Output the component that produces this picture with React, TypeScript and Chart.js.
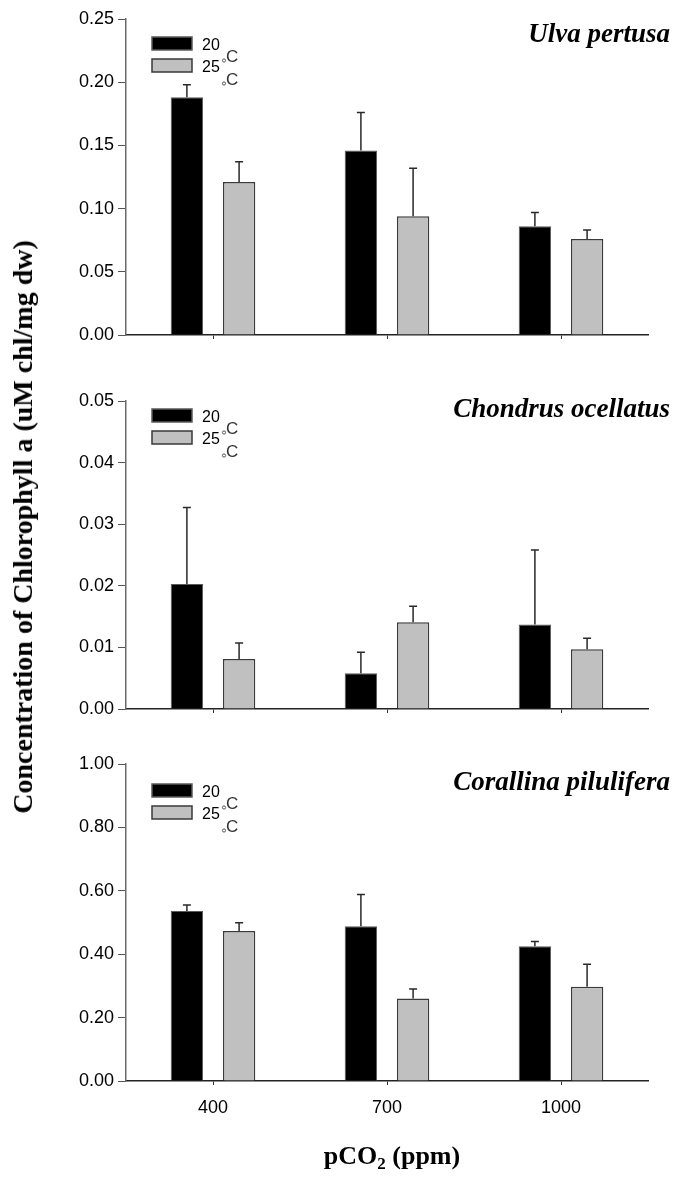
import { useEffect, useRef } from 'react';
import { Chart, registerables } from 'chart.js';

Chart.register(...registerables);

// pCO2 levels (ppm) and temperature treatments
const categories = ['400', '700', '1000'];
const seriesLabels = ['20', '25'];

// Ulva pertusa
const ulva20 = [0.188, 0.146, 0.086];
const ulva20Err = [0.010, 0.030, 0.011];
const ulva25 = [0.121, 0.094, 0.076];
const ulva25Err = [0.016, 0.038, 0.007];

// Chondrus ocellatus
const chondrus20 = [0.0203, 0.0058, 0.0137];
const chondrus20Err = [0.0124, 0.0034, 0.0121];
const chondrus25 = [0.0081, 0.0141, 0.0097];
const chondrus25Err = [0.0026, 0.0026, 0.0018];

// Corallina pilulifera
const corallina20 = [0.536, 0.488, 0.425];
const corallina20Err = [0.019, 0.100, 0.015];
const corallina25 = [0.473, 0.260, 0.297];
const corallina25Err = [0.026, 0.030, 0.071];

const SERIF = '"Liberation Serif", "Times New Roman", serif';
const SANS = '"Liberation Sans", Arial, sans-serif';

const WIDTH = 677;
const PLOT_LEFT = 126;
const PLOT_RIGHT = 648;

type PanelSpec = {
  title: string;
  v20: number[];
  e20: number[];
  v25: number[];
  e25: number[];
  yMax: number;
  yStep: number;
  top: number;
  height: number;
  plotTop: number;
  plotBottom: number;
  showX: boolean;
  titleBase: number;
  legendGray: number;
};

const panels: PanelSpec[] = [
  {
    title: 'Ulva pertusa',
    v20: ulva20, e20: ulva20Err, v25: ulva25, e25: ulva25Err,
    yMax: 0.25, yStep: 0.05,
    top: 0, height: 360, plotTop: 19, plotBottom: 335, showX: false,
    titleBase: 42, legendGray: 59,
  },
  {
    title: 'Chondrus ocellatus',
    v20: chondrus20, e20: chondrus20Err, v25: chondrus25, e25: chondrus25Err,
    yMax: 0.05, yStep: 0.01,
    top: 360, height: 380, plotTop: 401, plotBottom: 709, showX: false,
    titleBase: 417, legendGray: 431,
  },
  {
    title: 'Corallina pilulifera',
    v20: corallina20, e20: corallina20Err, v25: corallina25, e25: corallina25Err,
    yMax: 1.0, yStep: 0.2,
    top: 740, height: 440, plotTop: 764, plotBottom: 1081, showX: true,
    titleBase: 790, legendGray: 806,
  },
];

// Error bars (upper half only), species title and the temperature legend
const annotate = {
  id: 'annotate',
  afterDatasetsDraw(chart: any, _args: any, opts: any) {
    const { ctx, chartArea } = chart;
    const yScale = chart.scales.y;
    const offsetTop = opts.offsetTop as number;

    chart.data.datasets.forEach((ds: any, i: number) => {
      const meta = chart.getDatasetMeta(i);
      ds.errors.forEach((e: number, j: number) => {
        const bar = meta.data[j];
        const yTop = yScale.getPixelForValue(ds.data[j]);
        const yCap = yScale.getPixelForValue(ds.data[j] + e);
        ctx.save();
        ctx.strokeStyle = '#2a2a2a';
        ctx.lineWidth = 1.5;
        ctx.beginPath();
        ctx.moveTo(bar.x, yTop);
        ctx.lineTo(bar.x, yCap);
        ctx.moveTo(bar.x - 4, yCap);
        ctx.lineTo(bar.x + 4, yCap);
        ctx.stroke();
        ctx.restore();
      });
    });

    ctx.save();
    // species name
    ctx.font = `bold italic 27px ${SERIF}`;
    ctx.fillStyle = '#000';
    ctx.textAlign = 'right';
    ctx.textBaseline = 'alphabetic';
    ctx.fillText(opts.title, 670, opts.titleBase - offsetTop);

    // legend
    const boxX = chartArea.left + 26;
    const grayTop = opts.legendGray - offsetTop;
    const tops = [grayTop - 22, grayTop];
    chart.data.datasets.forEach((ds: any, i: number) => {
      ctx.fillStyle = ds.backgroundColor;
      ctx.fillRect(boxX, tops[i], 40, 13);
      ctx.strokeStyle = ds.borderColor;
      ctx.lineWidth = 1.5;
      ctx.strokeRect(boxX, tops[i], 40, 13);
      ctx.fillStyle = '#000';
      ctx.textAlign = 'left';
      ctx.font = `16px ${SANS}`;
      ctx.fillText(ds.label, boxX + 50, tops[i] + 13);
    });
    // degree signs
    const degs = [grayTop + 3, grayTop + 26];
    degs.forEach((base) => {
      ctx.fillStyle = '#333';
      ctx.font = `17px ${SANS}`;
      ctx.textAlign = 'left';
      ctx.fillText('C', boxX + 74, base);
      ctx.strokeStyle = '#555';
      ctx.lineWidth = 1;
      ctx.beginPath();
      ctx.arc(boxX + 72, base - 1.5, 1.6, 0, Math.PI * 2);
      ctx.stroke();
    });
    ctx.restore();
  },
};

function Panel({ spec }: { spec: PanelSpec }) {
  const ref = useRef<HTMLCanvasElement>(null);

  useEffect(() => {
    const canvas = ref.current;
    if (!canvas) return;
    const chart = new Chart(canvas, {
      type: 'bar',
      data: {
        labels: categories,
        datasets: [
          {
            label: seriesLabels[0],
            data: spec.v20,
            errors: spec.e20,
            backgroundColor: '#000000',
            borderColor: '#5a5a5a',
            borderWidth: 1,
          } as any,
          {
            label: seriesLabels[1],
            data: spec.v25,
            errors: spec.e25,
            backgroundColor: '#c0c0c0',
            borderColor: '#3a3a3a',
            borderWidth: 1.5,
          } as any,
        ],
      },
      options: {
        responsive: false,
        animation: false,
        devicePixelRatio: 1,
        layout: {
          padding: { top: spec.plotTop - spec.top, left: 0, right: WIDTH - PLOT_RIGHT, bottom: 0 },
        },
        datasets: {
          bar: { categoryPercentage: 0.6, barPercentage: 0.62 },
        },
        plugins: {
          legend: { display: false },
          tooltip: { enabled: false },
          annotate: {
            title: spec.title,
            titleBase: spec.titleBase,
            legendGray: spec.legendGray,
            offsetTop: spec.top,
          },
        } as any,
        scales: {
          x: {
            type: 'category',
            offset: true,
            afterFit: (s: any) => {
              s.height = spec.top + spec.height - spec.plotBottom;
            },
            grid: {
              offset: false,
              drawOnChartArea: false,
              drawTicks: true,
              tickLength: 4,
              color: '#333',
            },
            border: { display: true, color: '#222', width: 1.5 },
            ticks: {
              display: spec.showX,
              font: { family: SANS, size: 18 },
              color: '#000',
              padding: 12,
              maxRotation: 0,
            },
          },
          y: {
            min: 0,
            max: spec.yMax,
            afterFit: (s: any) => {
              s.width = PLOT_LEFT;
            },
            grid: {
              drawOnChartArea: false,
              drawTicks: true,
              tickLength: 8,
              color: '#555',
            },
            border: { display: true, color: '#6a6a6a', width: 1.5 },
            ticks: {
              stepSize: spec.yStep,
              font: { family: SANS, size: 18 },
              color: '#000',
              padding: 4,
              callback: (v: any) => Number(v).toFixed(2),
            },
          },
        },
      },
      plugins: [annotate],
    });
    return () => chart.destroy();
  }, [spec]);

  return (
    <canvas
      ref={ref}
      width={WIDTH}
      height={spec.height}
      style={{ position: 'absolute', left: 0, top: spec.top, width: WIDTH, height: spec.height }}
    />
  );
}

export default function App() {
  return (
    <div style={{ position: 'absolute', left: 0, top: 0, width: WIDTH, height: 1180, background: '#fff' }}>
      {panels.map((p) => (
        <Panel key={p.title} spec={p} />
      ))}
      <div
        style={{
          position: 'absolute',
          left: 23,
          top: 527,
          transform: 'translate(-50%, -50%) rotate(-90deg)',
          whiteSpace: 'nowrap',
          font: `bold 28px ${SERIF}`,
          color: '#000',
        }}
      >
        Concentration of Chlorophyll a (uM chl/mg dw)
      </div>
      <div
        style={{
          position: 'absolute',
          left: (PLOT_LEFT + PLOT_RIGHT) / 2 + 5,
          top: 1157,
          transform: 'translate(-50%, -50%)',
          whiteSpace: 'nowrap',
          font: `bold 26px ${SERIF}`,
          color: '#000',
        }}
      >
        pCO<sub style={{ fontSize: 17, verticalAlign: -5 }}>2</sub> (ppm)
      </div>
    </div>
  );
}
